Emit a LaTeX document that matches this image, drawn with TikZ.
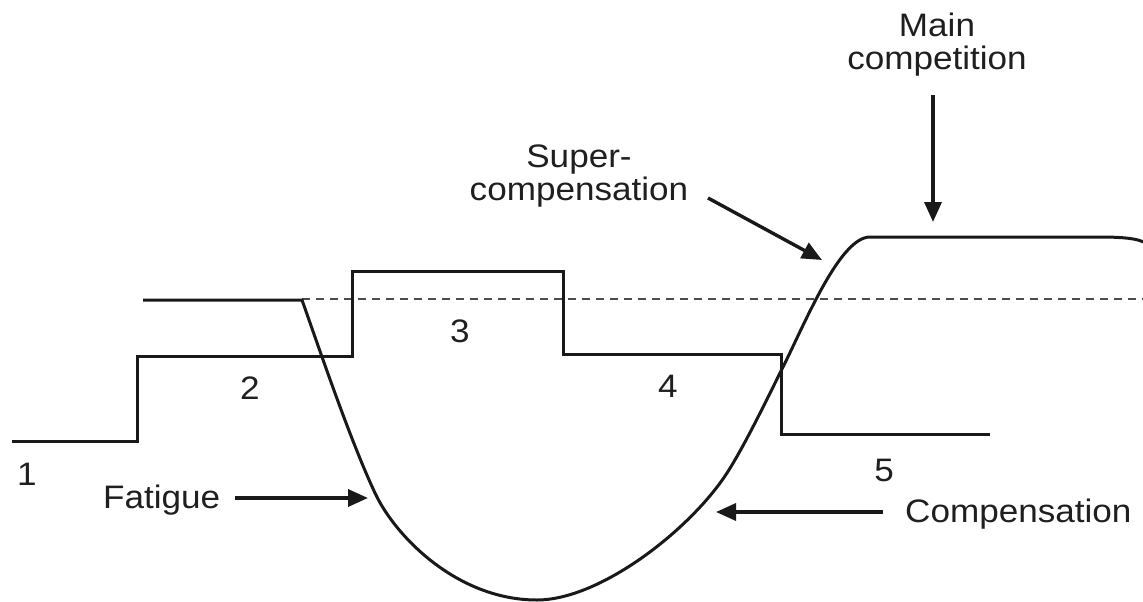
\documentclass[tikz,border=0pt]{standalone}
\usepackage{fontspec}
\setmainfont{Liberation Sans}[FakeStretch=1.08]
\usetikzlibrary{arrows.meta,calc}
\begin{document}
\begin{tikzpicture}[x=1pt,y=-1pt,
  thick line/.style={line width=3pt,draw=black!90,line join=miter},
  refdash/.style={line width=2pt,draw=black!70,dash pattern=on 8pt off 6pt},
  arr/.style={line width=3.4pt,draw=black!90,-{Triangle[length=20pt,width=17pt]}},
  lbl/.style={inner sep=0pt,text=black!88,font=\fontsize{32.5}{33}\selectfont},
  num/.style={lbl}]
\useasboundingbox (0,0) rectangle (1143,602);

% labels
\node[lbl,align=center] (main) at (937,44.5) {Main\\competition};
\node[lbl,align=center] (sup) at (579,176) {Super-\\compensation};
\node[lbl,anchor=base west] (fat) at (103,508) {Fatigue};
\node[lbl,anchor=base west] (comp) at (905,522) {Compensation};
\node[num] (n1) at (27,474) {1};
\node[num] (n2) at (250,388) {2};
\node[num] (n3) at (460,331) {3};
\node[num] (n4) at (668,386) {4};
\node[num] (n5) at (884,470) {5};

% reference level (dashed)
\draw[refdash] (302,299) -- (1143,299);

% training load steps
\draw[thick line] (12,441) -- (137,441) -- (137,356) -- (352,356) -- (352,271)
  -- (563,271) -- (563,354) -- (781,354) -- (781,434) -- (990,434);

% fatigue / compensation curve
\draw[thick line] (143,300) -- (302,300)
  .. controls (318,345) and (350,440) .. (375,493)
  .. controls (395,536) and (457,600) .. (537,600)
  .. controls (600,600) and (690,530) .. (727,473)
  .. controls (745,445) and (768,397) .. (783,367)
  .. controls (805.5,322) and (840,237) .. (870,237)
  -- (1100,237) .. controls (1125,237) and (1138,239) .. (1143,242);

% arrow tips on the curve
\coordinate (fatTip) at (368,498);
\coordinate (compTip) at (716,512);
\coordinate (supTip) at (822,260);
\coordinate (supTail) at (708,198);
\coordinate (mainTip) at (933,222);

% arrows
\draw[arr] ($(fatTip -| fat.east)+(15,0)$) -- (fatTip);
\draw[arr] ($(compTip -| comp.west)+(-22,0)$) -- (compTip);
\draw[arr] (supTail) -- (supTip);
\draw[arr] ($(main.south -| mainTip)+(0,19)$) -- (mainTip);
\end{tikzpicture}
\end{document}
